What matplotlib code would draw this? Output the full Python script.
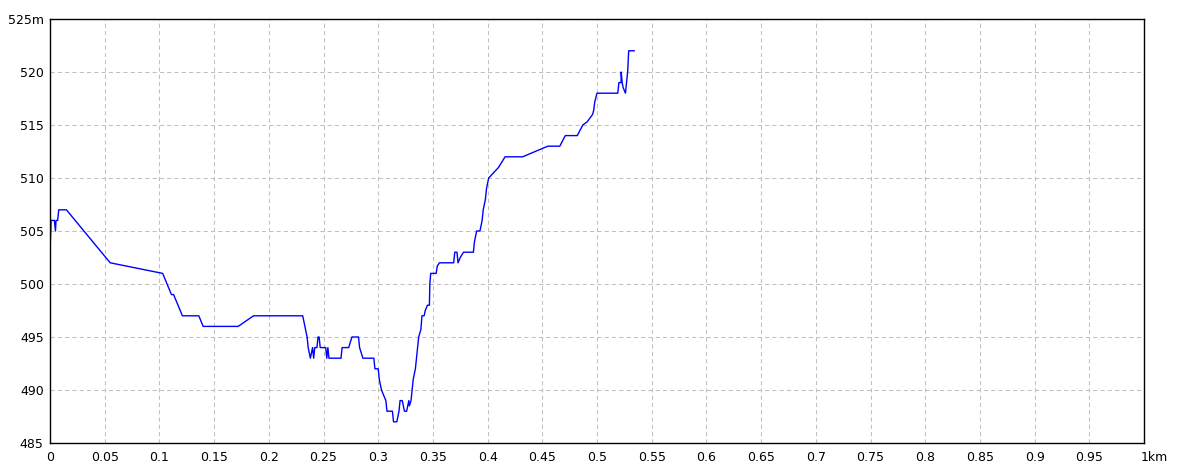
import matplotlib
matplotlib.use('Agg')
import matplotlib.pyplot as plt
from matplotlib.transforms import ScaledTranslation

plt.rcParams['font.family'] = ['Liberation Sans Narrow', 'DejaVu Sans']

# distance (km) and elevation (m)
dist_km = [0.000, 0.001, 0.004, 0.005, 0.0055, 0.007, 0.008, 0.015, 0.055, 0.103,
           0.111, 0.113, 0.121, 0.136, 0.140, 0.172, 0.186, 0.231, 0.233, 0.235,
           0.236, 0.238, 0.240, 0.241, 0.242, 0.244, 0.245, 0.246, 0.247, 0.252,
           0.253, 0.254, 0.255, 0.266, 0.267, 0.273, 0.276, 0.282, 0.283, 0.286,
           0.296, 0.297, 0.300, 0.301, 0.303, 0.307, 0.308, 0.313, 0.314, 0.317,
           0.319, 0.320, 0.322, 0.324, 0.326, 0.328, 0.3285, 0.330, 0.331, 0.332,
           0.334, 0.336, 0.337, 0.339, 0.340, 0.342, 0.343, 0.345, 0.3468, 0.3472,
           0.348, 0.353, 0.354, 0.356,
           0.369, 0.370, 0.372, 0.373, 0.375, 0.378, 0.387, 0.388, 0.390, 0.393,
           0.395, 0.396, 0.398, 0.399, 0.401, 0.410, 0.416, 0.432, 0.455, 0.466,
           0.471, 0.482, 0.487, 0.491, 0.496, 0.497, 0.498, 0.500, 0.519, 0.520,
           0.522, 0.5221, 0.523, 0.524, 0.526, 0.527, 0.528, 0.5285, 0.529, 0.534]
elev_m = [503, 506, 506, 505, 506, 506, 507, 507, 502, 501,
          499, 499, 497, 497, 496, 496, 497, 497, 496, 495,
          494, 493, 494, 493, 494, 494, 495, 495, 494, 494,
          493, 494, 493, 493, 494, 494, 495, 495, 494, 493,
          493, 492, 492, 491, 490, 489, 488, 488, 487, 487,
          488, 489, 489, 488, 488, 489, 488.5, 489, 490, 491,
          492, 494, 495, 495.7, 497, 497, 497.5, 498, 498, 500,
          501, 501, 501.7, 502,
          502, 503, 503, 502, 502.5, 503, 503, 504, 505, 505,
          506, 507, 508, 509, 510, 511, 512, 512, 513, 513,
          514, 514, 515, 515.3, 516, 516.4, 517.2, 518, 518, 519,
          519, 520, 519, 518.5, 518, 519, 520, 521, 522, 522]

x_ticks = [i * 0.05 for i in range(21)]
x_labels = ['0', '0.05', '0.1', '0.15', '0.2', '0.25', '0.3', '0.35', '0.4', '0.45',
            '0.5', '0.55', '0.6', '0.65', '0.7', '0.75', '0.8', '0.85', '0.9', '0.95',
            '1km']
y_ticks = [485, 490, 495, 500, 505, 510, 515, 520, 525]
y_labels = ['485', '490', '495', '500', '505', '510', '515', '520', '525m']

fig = plt.figure(figsize=(11.84, 4.73), dpi=100)
ax = fig.add_axes([50 / 1184, 1 - 443 / 473, 1094 / 1184, 424 / 473])

ax.plot(dist_km, elev_m, color='#0000ff', lw=1.0)

ax.set_xlim(0, 1)
ax.set_ylim(485, 525)
ax.set_xticks(x_ticks)
ax.set_xticklabels(x_labels)
ax.set_yticks(y_ticks)
ax.set_yticklabels(y_labels)
ax.tick_params(length=0, labelsize=9, colors='black')
ax.tick_params(axis='x', pad=6)
ax.tick_params(axis='y', pad=4.5)

# "1km": the "1" sits on the tick, the unit trails to the right
last = ax.get_xticklabels()[-1]
last.set_horizontalalignment('left')
last.set_transform(last.get_transform() + ScaledTranslation(-3 / 100, 0, fig.dpi_scale_trans))

ax.grid(True, color='#c0c0c0', linestyle=(0, (4, 3)), linewidth=0.75)
for s in ax.spines.values():
    s.set_color('black')
    s.set_linewidth(1.0)

fig.savefig('out.png', dpi=100)
